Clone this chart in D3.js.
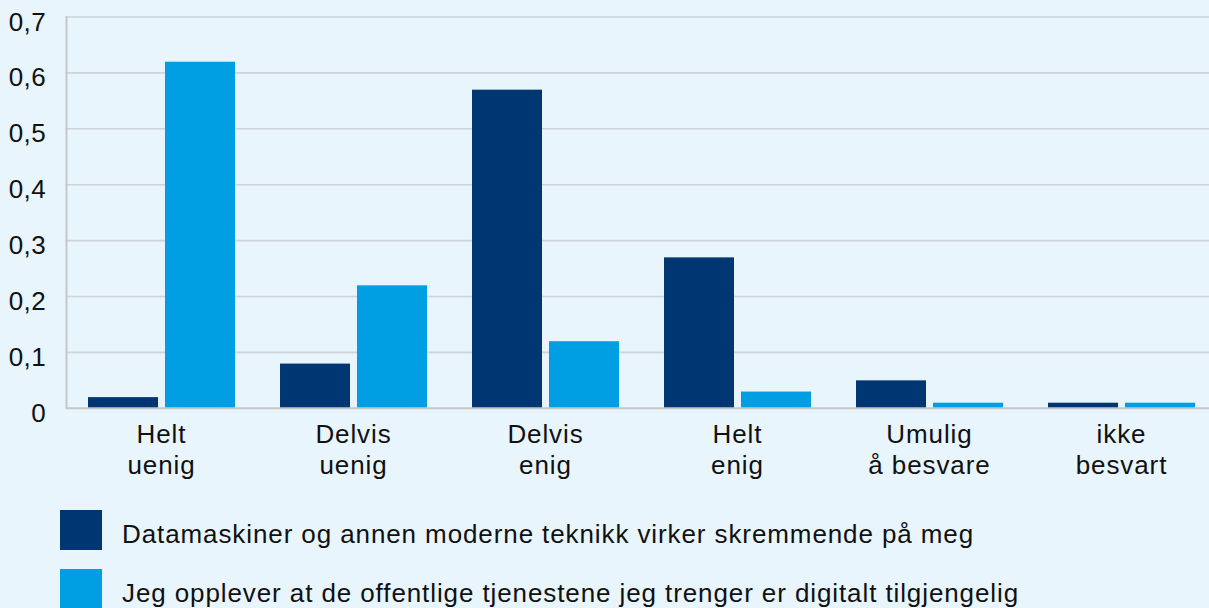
<!DOCTYPE html>
<html>
<head>
<meta charset="utf-8">
<script src="https://cdn.jsdelivr.net/npm/d3@7"></script>
<style>
  html, body { margin: 0; padding: 0; background: #e8f5fd; }
  svg { display: block; }
  text { font-family: "Liberation Sans", Arial, Helvetica, sans-serif; fill: #111; }
</style>
</head>
<body>
<svg id="chart" width="1209" height="608"></svg>
<script>
// Response categories (two-line labels)
const categories = ["Helt uenig", "Delvis uenig", "Delvis enig", "Helt enig", "Umulig å besvare", "ikke besvart"];
const categoryLines = [["Helt", "uenig"], ["Delvis", "uenig"], ["Delvis", "enig"], ["Helt", "enig"], ["Umulig", "å besvare"], ["ikke", "besvart"]];

// Survey statements
const seriesNames = [
  "Datamaskiner og annen moderne teknikk virker skremmende på meg",
  "Jeg opplever at de offentlige tjenestene jeg trenger er digitalt tilgjengelig"
];
const seriesColors = ["#003671", "#009fe3"];

// Share of respondents per category
const skremmende = [0.02, 0.08, 0.57, 0.27, 0.05, 0.01];
const tilgjengelig = [0.62, 0.22, 0.12, 0.03, 0.01, 0.01];
const seriesValues = [skremmende, tilgjengelig];

const yTicks = [0, 0.1, 0.2, 0.3, 0.4, 0.5, 0.6, 0.7];

const svg = d3.select("#chart");
const plotLeft = 65.5, plotRight = 1217.5, plotTop = 17, plotBottom = 408.3;

const x0 = d3.scaleBand().domain(categories).range([plotLeft, plotRight]).padding(0);
const x1 = d3.scaleBand().domain(d3.range(seriesNames.length))
  .range([22.5, x0.bandwidth() - 22.5]).paddingInner(7 / 77).paddingOuter(0);
const y = d3.scaleLinear().domain([0, 0.7]).range([plotBottom, plotTop]);

const fmt = v => v === 0 ? "0" : d3.format(".1f")(v).replace(".", ",");

// Horizontal gridlines
svg.append("g").selectAll("line").data(yTicks.filter(t => t > 0)).join("line")
  .attr("x1", plotLeft).attr("x2", 1209)
  .attr("y1", d => y(d)).attr("y2", d => y(d))
  .attr("stroke", "#cdd3d8").attr("stroke-width", 1.6);

// Bars
const groups = svg.append("g").selectAll("g").data(categories).join("g")
  .attr("transform", d => `translate(${x0(d)},0)`);
groups.selectAll("rect")
  .data((c, i) => seriesValues.map((vals, s) => ({ s, v: vals[i] })))
  .join("rect")
  .attr("x", d => x1(d.s))
  .attr("width", x1.bandwidth())
  .attr("y", d => y(d.v))
  .attr("height", d => y(0) - y(d.v))
  .attr("fill", d => seriesColors[d.s]);

// Axis lines
svg.append("line").attr("x1", plotLeft).attr("x2", 1209).attr("y1", y(0)).attr("y2", y(0))
  .attr("stroke", "#c4c8cc").attr("stroke-width", 2);
svg.append("line").attr("x1", plotLeft + 1).attr("x2", plotLeft + 1).attr("y1", plotTop - 1).attr("y2", y(0))
  .attr("stroke", "#c4c8cc").attr("stroke-width", 2);

// Y tick labels
svg.append("g").selectAll("text").data(yTicks).join("text")
  .attr("x", 46).attr("y", d => y(d) + 13.5)
  .attr("text-anchor", "end")
  .attr("font-size", 26)
  .attr("letter-spacing", 0.4)
  .text(fmt);

// Category labels
const catLabels = svg.append("g").selectAll("text").data(categories).join("text")
  .attr("text-anchor", "middle")
  .attr("font-size", 26)
  .attr("letter-spacing", 0.9)
  .attr("y", 442.5);
catLabels.each(function (c, i) {
  const t = d3.select(this);
  const cx = x0(c) + x0.bandwidth() / 2;
  categoryLines[i].forEach((line, k) => {
    t.append("tspan").attr("x", cx).attr("dy", k === 0 ? 0 : 31).text(line);
  });
});

// Legend
const legend = svg.append("g").selectAll("g").data(seriesNames).join("g")
  .attr("transform", (d, i) => `translate(60,${510 + i * 59})`);
legend.append("rect").attr("width", 42).attr("height", 40)
  .attr("fill", (d, i) => seriesColors[i]);
legend.append("text").attr("x", 62).attr("y", 33)
  .attr("font-size", 26)
  .attr("letter-spacing", 0.9)
  .text(d => d);
</script>
</body>
</html>
